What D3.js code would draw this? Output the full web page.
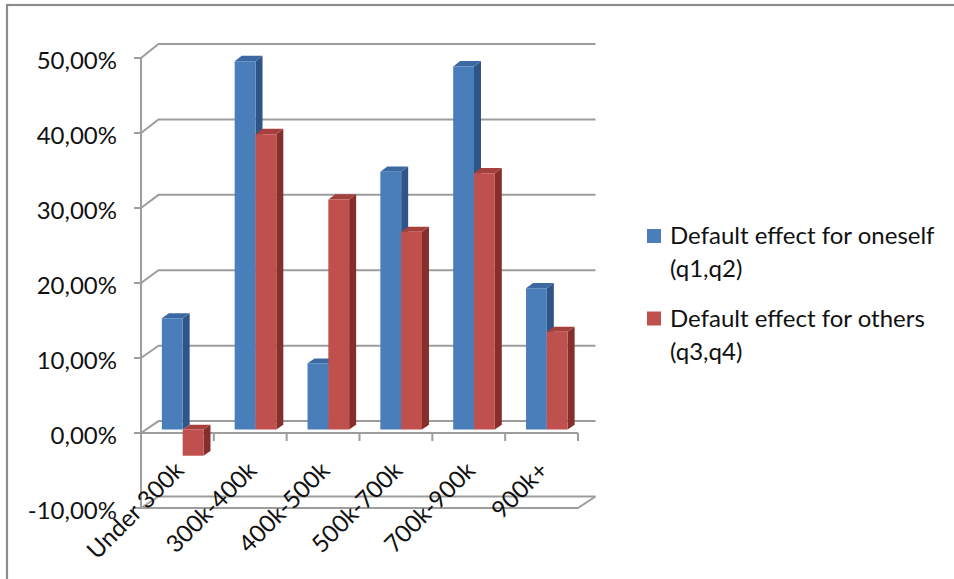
<!DOCTYPE html>
<html>
<head>
<meta charset="utf-8">
<script src="https://cdn.jsdelivr.net/npm/d3@7"></script>
<style>
  html, body { margin: 0; padding: 0; background: #ffffff; }
  svg { display: block; }
  text { font-family: Lato, "Open Sans", sans-serif; fill: #111111; }
</style>
</head>
<body>
<script>
// Income brackets and the two default-effect series (percent)
const categories = ["Under 300k", "300k-400k", "400k-500k", "500k-700k", "700k-900k", "900k+"];
const oneselfValues = [14.8, 49.0, 8.8, 34.3, 48.3, 18.8];
const othersValues = [-3.5, 39.3, 30.6, 26.3, 34.1, 13.0];
const seriesLegend = [["Default effect for oneself", "(q1,q2)"], ["Default effect for others", "(q3,q4)"]];
const yTicks = [-10, 0, 10, 20, 30, 40, 50];
const yTickLabels = ["-10,00%", "0,00%", "10,00%", "20,00%", "30,00%", "40,00%", "50,00%"];

const W = 954, H = 579;
const svg = d3.select("body").append("svg").attr("width", W).attr("height", H);

// Outer chart border (right and bottom edges fall outside the frame)
svg.append("rect").attr("x", 7).attr("y", 5).attr("width", 1000).attr("height", 700)
  .attr("fill", "none").attr("stroke", "#8c8c8c").attr("stroke-width", 2.2);

// Front plane scales and depth of the 3D box
const x = d3.scaleBand().domain(categories).range([141, 578]).paddingInner(0).paddingOuter(0);
const yFront = d3.scaleLinear().domain([-10, 50]).range([508, 58]);
const yBack = d3.scaleLinear().domain([-10, 50]).range([496.5, 44]);
const DX = 17.5;

// project a front-plane x and a value into the box at depth t (0 = front, 1 = back)
function P(px, v, t) {
  return [px + t * DX, yFront(v) + t * (yBack(v) - yFront(v))];
}

const grid = svg.append("g").attr("fill", "none").attr("stroke", "#9d9d9d").attr("stroke-width", 2);
const x0 = x.range()[0], x1 = x.range()[1];

// Back wall gridlines with their side-wall diagonals
yTicks.forEach(v => {
  const a = P(x0, v, 0), b = P(x0, v, 1), c = P(x1, v, 1);
  grid.append("polyline").attr("points", [a, b, c].map(p => p.join(",")).join(" "));
});

// Floor front edge and right edge at the axis minimum
{
  const v = yTicks[0];
  const a = P(x0, v, 0), b = P(x1, v, 0), c = P(x1, v, 1);
  grid.append("polyline").attr("points", [a, b, c].map(p => p.join(",")).join(" "));
}

// Vertical value axis with outward ticks
grid.append("line").attr("x1", x0).attr("x2", x0).attr("y1", yFront(50)).attr("y2", yFront(-10));
yTicks.forEach(v => {
  grid.append("line").attr("x1", x0 - 7).attr("x2", x0).attr("y1", yFront(v)).attr("y2", yFront(v));
});

// Category axis at zero with tick marks between categories
grid.append("line").attr("x1", x0).attr("x2", x1).attr("y1", yFront(0)).attr("y2", yFront(0));
const boundaries = categories.map(c => x(c)).concat([x1]);
boundaries.forEach(bx => {
  grid.append("line").attr("x1", bx).attr("x2", bx).attr("y1", yFront(0)).attr("y2", yFront(0) + 8);
});

// Value labels
svg.append("g").selectAll("text").data(yTicks).join("text")
  .attr("x", 117).attr("y", d => yFront(d) + 1.5)
  .attr("text-anchor", "end").attr("dominant-baseline", "central")
  .style("font-size", "24px")
  .text((d, i) => yTickLabels[i]);

// Category labels, rotated
svg.append("g").selectAll("text").data(categories).join("text")
  .attr("transform", d => `translate(${x(d) + x.bandwidth() / 2 + 8},${yFront(0) + 39}) rotate(-45)`)
  .attr("text-anchor", "end")
  .style("font-size", "24px")
  .text(d => d);

// 3D columns
const palette = [
  { front: "#4a7ebb", side: "#2f5587", top: "#3d69a3" },
  { front: "#c0504d", side: "#862e2c", top: "#a5403d" }
];
const seriesValues = [oneselfValues, othersValues];
const bw = x.bandwidth() / 3.5;
const T0 = 0.3, T1 = 0.7;
const bars = svg.append("g");

function poly(pts, fill) {
  bars.append("polygon").attr("points", pts.map(p => p.join(",")).join(" ")).attr("fill", fill);
}

categories.forEach((c, ci) => {
  seriesValues.forEach((vals, si) => {
    const v = vals[ci];
    const lo = Math.min(0, v), hi = Math.max(0, v);
    const xl = x(c) + 0.75 * bw + si * bw, xr = xl + bw;
    const col = palette[si];
    // right side face
    poly([P(xr, lo, T0), P(xr, hi, T0), P(xr, hi, T1), P(xr, lo, T1)], col.side);
    // top face
    poly([P(xl, hi, T0), P(xr, hi, T0), P(xr, hi, T1), P(xl, hi, T1)], col.top);
    // front face
    poly([P(xl, lo, T0), P(xr, lo, T0), P(xr, hi, T0), P(xl, hi, T0)], col.front);
  });
});

// Legend
const legend = svg.append("g");
const legendTop = [229, 311.5];
seriesLegend.forEach((lines, i) => {
  legend.append("rect").attr("x", 647).attr("y", legendTop[i]).attr("width", 14).attr("height", 14)
    .attr("fill", palette[i].front);
  lines.forEach((ln, j) => {
    legend.append("text").attr("x", 670).attr("y", legendTop[i] + 15 + j * 33)
      .style("font-size", "24px").text(ln);
  });
});
</script>
</body>
</html>
